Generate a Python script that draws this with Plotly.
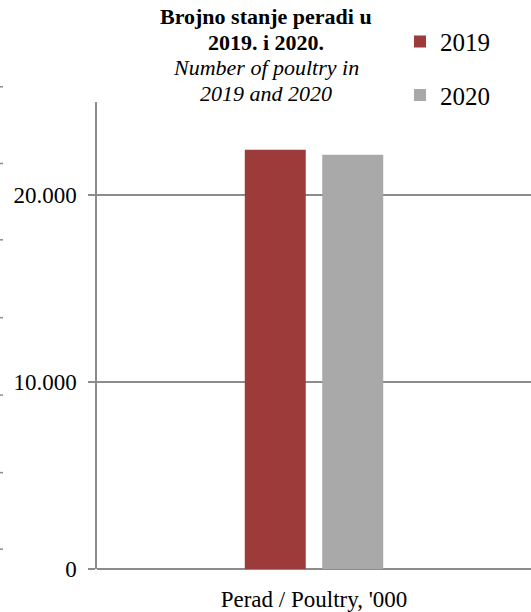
import plotly.graph_objects as go

categories = ["Perad / Poultry, '000"]
years = ["2019", "2020"]
values_2019 = [22450]
values_2020 = [22180]
y_ticks = [0, 10000, 20000]
y_tick_labels = ["0", "10.000", "20.000"]
colors = {"2019": "#9D3B3A", "2020": "#A9A9A9"}
title_lines = ["<b>Brojno stanje peradi u</b>", "<b>2019. i 2020.</b>",
               "<i>Number of poultry in</i>", "<i>2019 and 2020</i>"]

FONT = "Liberation Serif"
W, H = 531, 612
L, R, T, B = 97, 0, 102, 39
pw, ph = W - L - R, H - T - B

def px_x(x):
    return (x - L) / pw

def px_y(y):
    return (H - B - y) / ph

fig = go.Figure()
for yr, vals in zip(years, [values_2019, values_2020]):
    fig.add_trace(go.Bar(
        x=categories, y=vals, name=yr, legendgroup=yr,
        marker=dict(color=colors[yr], line=dict(width=0)),
    ))

# decorative left-edge dashes
dash_px = [86.7, 164, 241, 319.5, 397.6, 475.8, 553]
shapes = [dict(type="line", xref="paper", yref="paper",
               x0=px_x(0), x1=px_x(3), y0=px_y(p), y1=px_y(p),
               line=dict(color="#8C8C8C", width=1.5)) for p in dash_px]

title_y = [16, 42, 67, 93]
annotations = [dict(xref="paper", yref="paper", x=px_x(266), y=px_y(cy),
                    xanchor="center", yanchor="middle", showarrow=False,
                    text=t, font=dict(size=22, family=FONT, color="black"))
               for t, cy in zip(title_lines, title_y)]

fig.update_layout(
    width=W, height=H,
    margin=dict(l=L, r=R, t=T, b=B, pad=0),
    paper_bgcolor="white", plot_bgcolor="white",
    barmode="group", bargap=0.643, bargroupgap=0.213,
    font=dict(family=FONT, color="black"),
    showlegend=True,
    legend=dict(x=px_x(400), y=px_y(18), xanchor="left", yanchor="top",
                font=dict(size=25, family=FONT), tracegroupgap=18,
                itemwidth=30, bgcolor="rgba(0,0,0,0)"),
    shapes=shapes,
    annotations=annotations,
)
fig.update_xaxes(
    showgrid=False, showline=False, zeroline=False, ticks="",
    tickfont=dict(size=23, family=FONT), ticklabelstandoff=14,
)
fig.update_yaxes(
    range=[0, 25000], tickvals=y_ticks, ticktext=y_tick_labels,
    showgrid=True, gridcolor="#8C8C8C", gridwidth=1.5,
    zeroline=True, zerolinecolor="#8C8C8C", zerolinewidth=1.5,
    showline=True, linecolor="#8C8C8C", linewidth=1.5,
    ticks="outside", ticklen=7, tickcolor="#8C8C8C", tickwidth=1.5,
    tickfont=dict(size=23, family=FONT), ticklabelstandoff=7,
)
fig.write_html("out.html", config={"displayModeBar": False},
               post_script="document.body.style.margin='0';")
